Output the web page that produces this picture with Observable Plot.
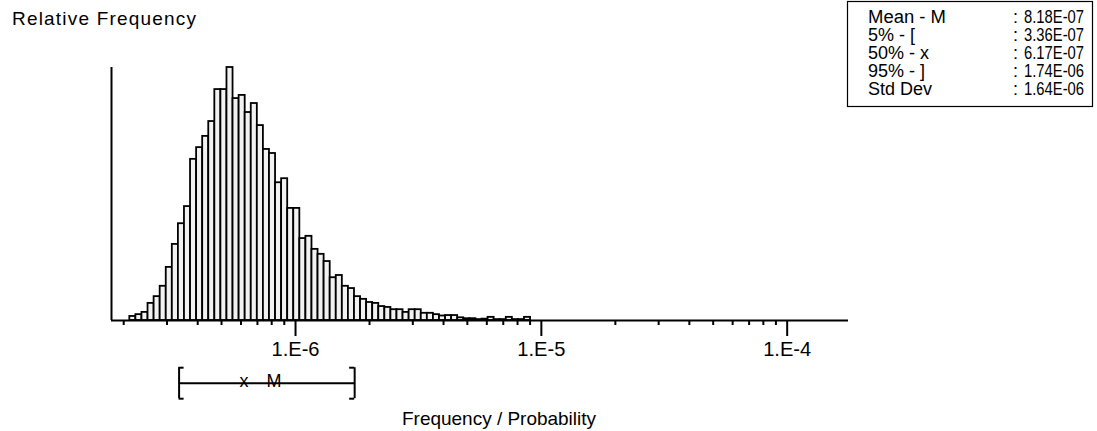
<!DOCTYPE html>
<html>
<head>
<meta charset="utf-8">
<script src="https://cdn.jsdelivr.net/npm/d3@7"></script>
<script src="https://cdn.jsdelivr.net/npm/@observablehq/plot@0.6"></script>
<style>
  html, body { margin: 0; padding: 0; background: #fff; }
  #chart svg { display: block; }
</style>
</head>
<body>
<div id="chart"></div>
<script>
// ---------- data ----------
// relative frequency (%) of each log-spaced bin, left to right
const relFreq = [
  0.09, 0.13, 0.18, 0.38, 0.53, 0.76, 1.18, 1.69, 2.15, 2.53,
  3.58, 3.84, 4.09, 4.42, 5.13, 5.13, 5.62, 4.93, 5.00, 4.62,
  4.82, 4.33, 3.80, 3.71, 3.06, 3.15, 2.49, 2.49, 1.82, 1.87,
  1.58, 1.47, 1.31, 0.95, 1.00, 0.76, 0.71, 0.53, 0.47, 0.40,
  0.38, 0.31, 0.29, 0.24, 0.24, 0.18, 0.24, 0.24, 0.16, 0.16,
  0.13, 0.10, 0.11, 0.11, 0.06, 0.04, 0.04, 0.02, 0.03, 0.07,
  0.02, 0.02, 0.07, 0.02, 0.02, 0.07
];
const binStart = 2.118e-7;      // lower edge of first bin
const binDecades = 0.0247;      // bin width in decades (log-uniform bins)

const majorTicks = [1e-6, 1e-5, 1e-4];
const majorTickLabels = ["1.E-6", "1.E-5", "1.E-4"];
const minorMultipliers = [2, 3, 4, 5, 6, 7, 8, 9];

const statLabels = ["Mean - M", "5% - [", "50% - x", "95% - ]", "Std Dev"];
const statValues = [8.18e-7, 3.36e-7, 6.17e-7, 1.74e-6, 1.64e-6];
const [meanV, p5, p50, p95] = statValues;

const xTitle = "Frequency / Probability";
const yTitle = "Relative Frequency";

// ---------- build ----------
const bins = relFreq.map((f, i) => ({
  x1: binStart * Math.pow(10, i * binDecades),
  x2: binStart * Math.pow(10, (i + 1) * binDecades),
  f
}));
const xDomain = [1.784e-7, 1.776e-4];
const minorTicks = [];
for (const dec of [1e-7, 1e-6, 1e-5, 1e-4]) for (const m of minorMultipliers) {
  const v = dec * m; if (v >= xDomain[0] && v <= xDomain[1]) minorTicks.push(v);
}
const fmt = v => {
  const [m, e] = v.toExponential(2).split("e");
  const n = +e;
  return m + "E" + (n < 0 ? "-" : "+") + String(Math.abs(n)).padStart(2, "0");
};

const FONT = "'Liberation Sans', Arial, sans-serif";
const BY = 62.7;   // bracket offset below baseline
const BH = 15.5;   // bracket half-height

const chart = Plot.plot({
  width: 1097, height: 431,
  marginLeft: 111, marginRight: 249, marginTop: 67, marginBottom: 111,
  style: { fontFamily: FONT, fontSize: "17px", background: "white", color: "black" },
  x: { type: "log", domain: xDomain },
  y: { domain: [0, 5.62], axis: null },
  marks: [
    Plot.rect(bins, { x1: "x1", x2: "x2", y1: 0, y2: "f", fill: "#f2f2f2", stroke: "black", strokeWidth: 1.8 }),
    Plot.ruleY([0], { strokeWidth: 2 }),
    Plot.ruleX([xDomain[0]], { strokeWidth: 2 }),
    Plot.axisX({ ticks: minorTicks, tickSize: 5, tickFormat: () => "", strokeWidth: 2, label: null }),
    Plot.axisX({ ticks: majorTicks, tickSize: 16, tickPadding: 5, strokeWidth: 2, label: null,
      tickFormat: d => majorTickLabels[majorTicks.indexOf(d)], fontSize: 21 }),
    // percentile bracket [ x M ]
    Plot.ruleY([0], { x1: p5, x2: p95, dy: BY, strokeWidth: 2 }),
    Plot.ruleX([p5, p95], { y1: 0, y2: 0, insetTop: -BH, insetBottom: -BH, dy: BY, strokeWidth: 2 }),
    Plot.ruleY([0], { x1: p5, x2: p5, insetRight: -5, dy: BY - BH, strokeWidth: 2 }),
    Plot.ruleY([0], { x1: p5, x2: p5, insetRight: -5, dy: BY + BH, strokeWidth: 2 }),
    Plot.ruleY([0], { x1: p95, x2: p95, insetLeft: -5, dy: BY - BH, strokeWidth: 2 }),
    Plot.ruleY([0], { x1: p95, x2: p95, insetLeft: -5, dy: BY + BH, strokeWidth: 2 }),
    Plot.text([{ v: p50, s: "x" }, { v: meanV, s: "M" }], { x: "v", y: 0, text: "s", dy: 61, fontSize: 18 })
  ]
});
document.getElementById("chart").appendChild(chart);

const svg = d3.select(chart);
// narrow bitmap-like tick labels
svg.selectAll("text")
  .filter(function () { return majorTickLabels.includes(this.textContent); })
  .attr("textLength", 48).attr("lengthAdjust", "spacingAndGlyphs");

function addText(x, y, s, opts = {}) {
  const t = svg.append("text").attr("x", x).attr("y", y).text(s)
    .attr("font-family", FONT).attr("font-size", opts.size || 17).attr("fill", "black")
    .attr("text-anchor", opts.anchor || "start");
  if (opts.len) t.attr("textLength", opts.len).attr("lengthAdjust", opts.adj || "spacingAndGlyphs");
  return t;
}
addText(12, 25, yTitle, { size: 19, len: 184, adj: "spacing" });
addText(402, 425, xTitle, { size: 19, len: 194, adj: "spacing" });

// statistics box
svg.append("rect").attr("x", 847.5).attr("y", 1.5).attr("width", 245).attr("height", 105)
  .attr("fill", "white").attr("stroke", "black").attr("stroke-width", 1.2);
statLabels.forEach((l, i) => {
  const y = 23 + i * 18;
  addText(868, y, l, { size: 18, len: l === "Mean - M" ? 78 : null });
  addText(1013, y, ":", { size: 18 });
  addText(1024, y, fmt(statValues[i]), { size: 18, len: 60 });
});
</script>
</body>
</html>
